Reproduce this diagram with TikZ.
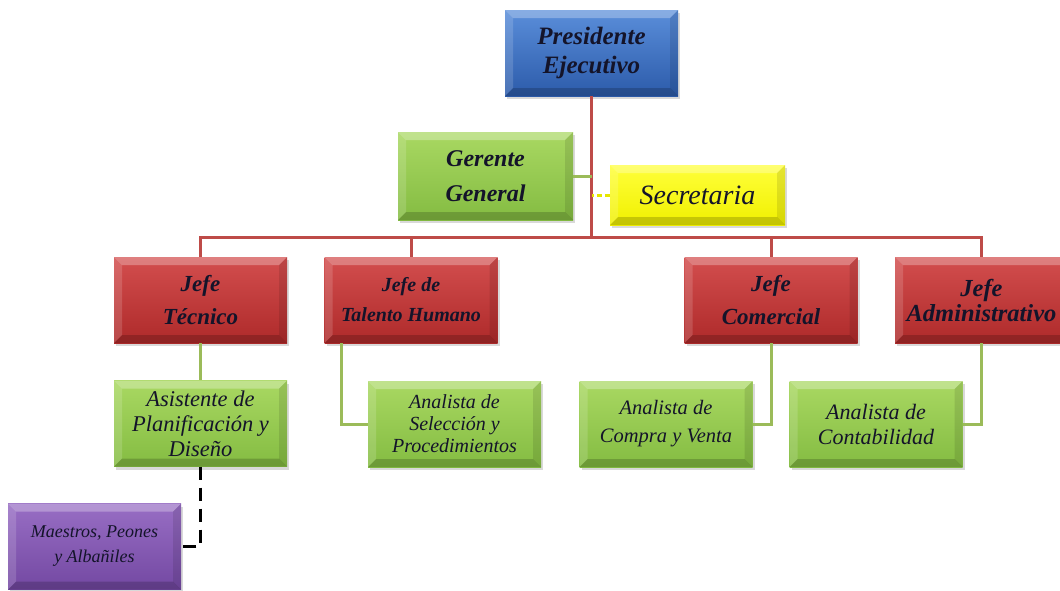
\documentclass[tikz,border=0pt]{standalone}
\usepackage{fontspec}
\setmainfont{Liberation Serif}
\usetikzlibrary{shadows}
\definecolor{bluetop}{HTML}{5A8EDA}
\definecolor{bluebot}{HTML}{2C5BAA}
\definecolor{greentop}{HTML}{A9D862}
\definecolor{greenbot}{HTML}{84BC42}
\definecolor{redtop}{HTML}{D34E4E}
\definecolor{redbot}{HTML}{AE2A2A}
\definecolor{yeltop}{HTML}{FFFF3A}
\definecolor{yelbot}{HTML}{F0F000}
\definecolor{purtop}{HTML}{986EC4}
\definecolor{purbot}{HTML}{7348A2}
\definecolor{linered}{HTML}{BE4B48}
\definecolor{linegreen}{HTML}{9BBB59}
\definecolor{lineyellow}{HTML}{E6E600}
\definecolor{txt}{HTML}{14142A}
\tikzset{
  box/.style={rectangle, minimum width=173pt, minimum height=86pt, align=center,
    inner sep=2pt, text=txt,
    drop shadow={shadow xshift=2pt, shadow yshift=-3pt, opacity=0.3},
    path picture={
      \fill[white, opacity=0.28]
        (path picture bounding box.north west) -- (path picture bounding box.north east)
        -- ([shift={(-8pt,-8pt)}]path picture bounding box.north east)
        -- ([shift={(8pt,-8pt)}]path picture bounding box.north west) -- cycle;
      \fill[white, opacity=0.15]
        (path picture bounding box.north west) -- (path picture bounding box.south west)
        -- ([shift={(8pt,8pt)}]path picture bounding box.south west)
        -- ([shift={(8pt,-8pt)}]path picture bounding box.north west) -- cycle;
      \fill[black, opacity=0.18]
        (path picture bounding box.south west) -- (path picture bounding box.south east)
        -- ([shift={(-8pt,8pt)}]path picture bounding box.south east)
        -- ([shift={(8pt,8pt)}]path picture bounding box.south west) -- cycle;
      \fill[black, opacity=0.10]
        (path picture bounding box.north east) -- (path picture bounding box.south east)
        -- ([shift={(-8pt,8pt)}]path picture bounding box.south east)
        -- ([shift={(-8pt,-8pt)}]path picture bounding box.north east) -- cycle;
    }},
  bluebox/.style={box, top color=bluetop, bottom color=bluebot},
  greenbox/.style={box, top color=greentop, bottom color=greenbot},
  redbox/.style={box, top color=redtop, bottom color=redbot},
  yelbox/.style={box, top color=yeltop, bottom color=yelbot},
  purbox/.style={box, top color=purtop, bottom color=purbot},
  redline/.style={draw=linered, line width=3pt},
  greenline/.style={draw=linegreen, line width=3pt},
  yelline/.style={draw=lineyellow, line width=3pt, dash pattern=on 5pt off 3pt},
  blackdash/.style={draw=black, line width=3.5pt, dash pattern=on 13pt off 8pt}
}
\begin{document}
\begin{tikzpicture}[x=1pt, y=-1pt]
\useasboundingbox (0,0) rectangle (1060,590);
\coordinate (bus) at (591.5,237);
\node[bluebox, font=\bfseries\itshape\fontsize{25}{29}\selectfont] (pres) at (591.5,53) {Presidente\\Ejecutivo};
\node[greenbox, minimum width=175pt, minimum height=88pt, font=\bfseries\itshape\fontsize{24}{35}\selectfont] (ger) at (485.5,176) {Gerente\\General};
\node[yelbox, minimum width=175pt, minimum height=60pt, font=\itshape\fontsize{28}{30}\selectfont] (sec) at (697.5,195) {Secretaria};
\node[redbox, font=\bfseries\itshape\fontsize{23}{33}\selectfont] (jt) at (200.5,300) {Jefe\\Técnico};
\node[redbox, font=\bfseries\itshape\fontsize{20}{30}\selectfont] (jth) at (411,300) {Jefe de\\Talento Humano};
\node[redbox, font=\bfseries\itshape\fontsize{23}{33}\selectfont] (jc) at (771,300) {Jefe\\Comercial};
\node[redbox, font=\bfseries\itshape\fontsize{24.5}{25}\selectfont] (ja) at (981.5,300) {Jefe\\Administrativo};
\node[greenbox, font=\itshape\fontsize{22.5}{25}\selectfont] (as) at (200.5,423.5) {Asistente de\\Planificación y\\Diseño};
\node[greenbox, font=\itshape\fontsize{20}{22}\selectfont] (sel) at (454.5,424) {Analista de\\Selección y\\Procedimientos};
\node[greenbox, font=\itshape\fontsize{20.5}{28}\selectfont] (cv) at (666,424) {Analista de\\Compra y Venta};
\node[greenbox, font=\itshape\fontsize{22}{25}\selectfont] (con) at (876,424) {Analista de\\Contabilidad};
\node[purbox, font=\itshape\fontsize{18}{25}\selectfont] (mae) at (94.5,546.5) {Maestros, Peones\\y Albañiles};
\draw[redline] (pres.south) -- (bus);
\draw[redline] (jt.north) |- (bus) -| (ja.north);
\draw[redline] (jth.north) -- (jth.north |- bus);
\draw[redline] (jc.north) -- (jc.north |- bus);
\draw[greenline] (ger.east) -- (ger.east -| bus);
\draw[yelline] (sec.west) -- (sec.west -| bus);
\draw[greenline] (jt.south) -- (as.north);
\draw[greenline] ([xshift=17.5pt]jth.south west) |- (sel.west);
\draw[greenline] (jc.south) |- (cv.east);
\draw[greenline] (ja.south) |- (con.east);
\draw[blackdash] (as.south) |- (mae.east);
\end{tikzpicture}
\end{document}
